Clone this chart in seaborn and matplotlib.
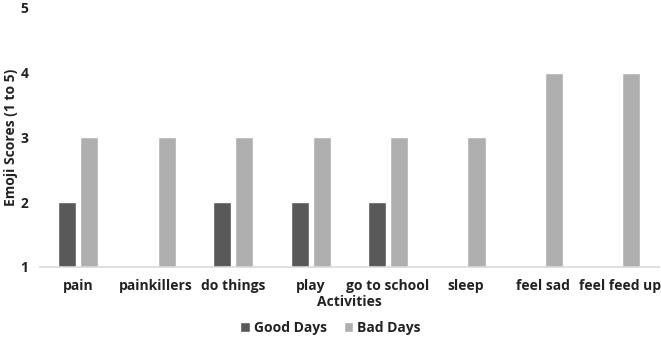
import numpy as np
import pandas as pd
import seaborn as sns
import matplotlib.pyplot as plt

activities = ["pain", "painkillers", "do things", "play", "go to school",
              "sleep", "feel sad", "feel feed up"]
good_days = [2, np.nan, 2, 2, 2, np.nan, np.nan, np.nan]
bad_days = [3, 3, 3, 3, 3, 3, 4, 4]

df = pd.DataFrame({
    "Activities": activities * 2,
    "score": good_days + bad_days,
    "day": ["Good Days"] * len(activities) + ["Bad Days"] * len(activities),
})

sns.set_style("white")
plt.rcParams['font.family'] = ['Open Sans', 'DejaVu Sans']

fig = plt.figure(figsize=(6.61, 3.43), dpi=100)
ax = fig.add_axes([0.06, 0.222, 0.937, 0.755])

sns.barplot(data=df, x="Activities", y="score", hue="day",
            palette={"Good Days": "#595959", "Bad Days": "#afafaf"},
            width=0.57, gap=0.18, ax=ax, legend=True)

ax.set_ylim(1, 5)
ax.set_yticks([1, 2, 3, 4, 5])
ax.set_xlim(-0.5, 7.5)
for s in ["top", "right", "left"]:
    ax.spines[s].set_visible(False)
ax.spines["bottom"].set_color("#d9d9d9")
ax.spines["bottom"].set_linewidth(1.2)
ax.tick_params(axis="both", length=0, labelsize=10, colors="#222222")
ax.tick_params(axis="x", pad=9)
ax.tick_params(axis="y", pad=8)
for t in ax.get_xticklabels() + ax.get_yticklabels():
    t.set_fontweight("bold")
ax.set_xlabel("Activities", fontsize=10, fontweight="bold", color="#222222", labelpad=1)
ax.set_ylabel("Emoji Scores (1 to 5)", fontsize=10, fontweight="bold", color="#222222", labelpad=2)

handles, labels = ax.get_legend_handles_labels()
ax.legend_.remove()
fig.legend(handles, labels, loc="center", bbox_to_anchor=(0.5, 0.045), ncol=2,
           frameon=False, handlelength=0.7, handleheight=0.7, handletextpad=0.3,
           columnspacing=1.2, prop={"weight": "bold", "size": 10})
for t in fig.legends[0].get_texts():
    t.set_color("#222222")

fig.savefig("out.png", dpi=100)
